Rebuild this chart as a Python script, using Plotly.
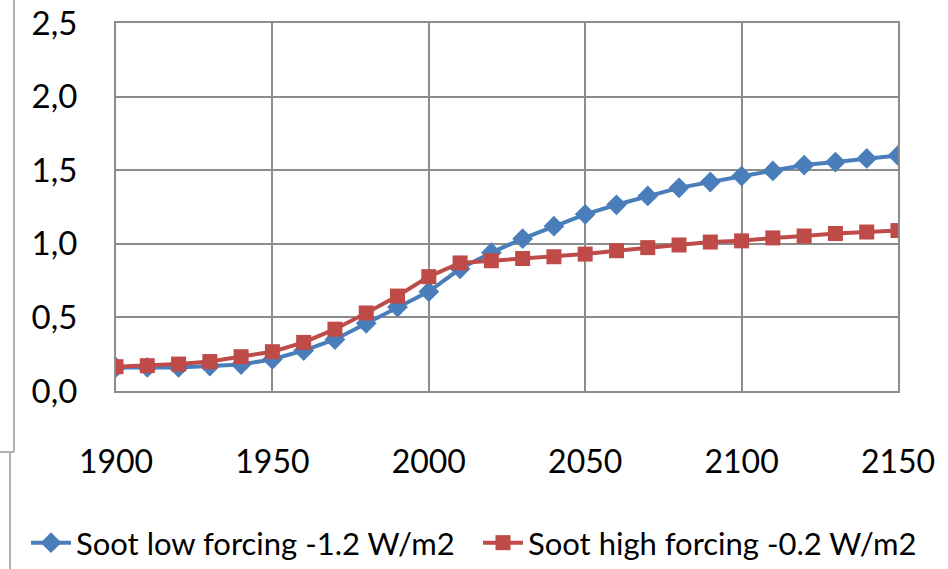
import plotly.graph_objects as go

years = list(range(1900, 2151, 10))

soot_low = [0.16, 0.16, 0.16, 0.17, 0.18, 0.215, 0.275, 0.35, 0.46, 0.57,
            0.675, 0.83, 0.94, 1.035, 1.12, 1.20, 1.265, 1.325, 1.38, 1.42,
            1.46, 1.495, 1.535, 1.555, 1.58, 1.60]

soot_high = [0.165, 0.172, 0.183, 0.20, 0.233, 0.267, 0.33, 0.42, 0.53, 0.645,
             0.777, 0.87, 0.885, 0.90, 0.912, 0.93, 0.953, 0.974, 0.992, 1.012,
             1.02, 1.04, 1.053, 1.07, 1.08, 1.09]

y_ticks = [0.0, 0.5, 1.0, 1.5, 2.0, 2.5]
x_ticks = [1900, 1950, 2000, 2050, 2100, 2150]

BLUE = "#4A7EBB"
RED = "#BE4B48"
GRID = "#8C8C8C"
FONT = "Lato"

fig = go.Figure()
fig.add_trace(go.Scatter(
    x=years, y=soot_low, mode="lines+markers",
    name="Soot low forcing -1.2 W/m2",
    line=dict(color=BLUE, width=4),
    marker=dict(symbol="diamond", size=16, color=BLUE),
    legend="legend",
))
fig.add_trace(go.Scatter(
    x=years, y=soot_high, mode="lines+markers",
    name="Soot high forcing -0.2 W/m2",
    line=dict(color=RED, width=4),
    marker=dict(symbol="square", size=15, color=RED),
    legend="legend2",
))

# thin frame lines on the left edge of the page
frame = dict(type="line", xref="paper", yref="paper", line=dict(color="#B0B0B0", width=2))
def px_x(v):
    return (v - 116) / (898 - 116)
def px_y(v):
    return (391 - v) / (391 - 23)
fig.update_layout(shapes=[
    dict(frame, x0=px_x(14), x1=px_x(14), y0=px_y(0), y1=px_y(452)),
    dict(frame, x0=px_x(0), x1=px_x(14), y0=px_y(452), y1=px_y(452)),
    dict(frame, x0=px_x(10), x1=px_x(10), y0=px_y(452), y1=px_y(569)),
])

legend_common = dict(
    orientation="h", xanchor="left", yanchor="middle",
    font=dict(family=FONT, size=31, color="black"),
    itemwidth=40, bgcolor="rgba(0,0,0,0)",
)

fig.update_layout(
    width=948, height=569,
    margin=dict(l=116, r=50, t=23, b=178, autoexpand=False),
    paper_bgcolor="white", plot_bgcolor="white",
    separators=",.",
    font=dict(family=FONT, size=32, color="black"),
    showlegend=True,
    legend=dict(legend_common, x=px_x(26), y=px_y(543)),
    legend2=dict(legend_common, x=px_x(478), y=px_y(543)),
    xaxis=dict(
        range=[1900, 2150], tickvals=x_ticks, ticks="",
        showgrid=True, gridcolor=GRID, gridwidth=1.5,
        showline=True, linecolor=GRID, linewidth=2, mirror=True,
        zeroline=False, ticklabelstandoff=42,
        tickfont=dict(family=FONT, size=32),
    ),
    yaxis=dict(
        range=[0, 2.5], tickvals=y_ticks, tickformat=".1f", ticks="",
        showgrid=True, gridcolor=GRID, gridwidth=1.5,
        showline=True, linecolor=GRID, linewidth=2, mirror=True,
        zeroline=False, ticklabelstandoff=30,
        tickfont=dict(family=FONT, size=33),
    ),
)

fig.write_html("out.html")
